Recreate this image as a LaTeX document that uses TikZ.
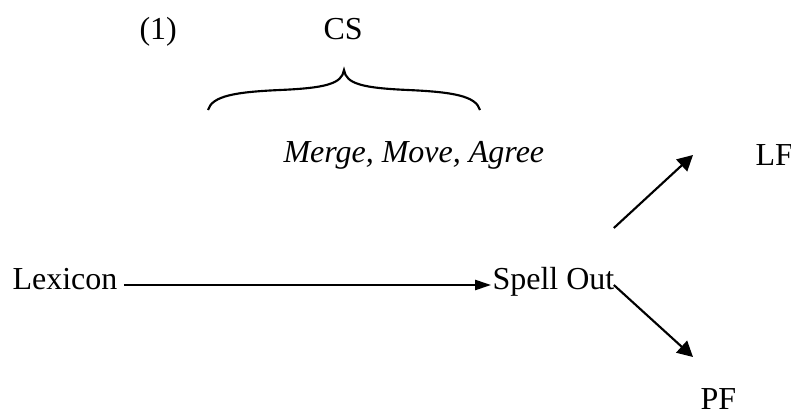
\documentclass[tikz,border=0pt]{standalone}
\usepackage{fontspec}
\setmainfont{Liberation Serif}
\usetikzlibrary{arrows.meta,calc}

\tikzset{
  lbl/.style={inner sep=0pt, anchor=base west, font=\fontsize{12pt}{14pt}\selectfont},
  arr/.style={line width=0.8pt, -{Triangle[length=5.8pt,width=6pt]}},
  flatarr/.style={line width=0.8pt, -{Triangle[length=6pt,width=3.8pt]}},
  bracestroke/.style={line width=0.8pt}
}

\begin{document}
\begin{tikzpicture}[x=0.375pt, y=-0.375pt]
  \useasboundingbox (0,0) rectangle (791,414);

  % labels
  \node[lbl] (num)   at (139,40)  {(1)};
  \node[lbl] (cs)    at (323,40)  {CS};
  \node[lbl] (ops)   at (283,162) {\itshape Merge, Move, Agree};
  \node[lbl] (lex)   at (12,289)  {Lexicon};
  \node[lbl] (spell) at (492,289) {Spell Out};
  \node[lbl] (lf)    at (755,165) {LF};
  \node[lbl] (pf)    at (700,409) {PF};

  % curly brace under CS
  \draw[bracestroke]
    (208,110) .. controls (212,96) and (235,92) .. (280,90)
              .. controls (325,88) and (342,84) .. (344,70)
              .. controls (346,84) and (363,88) .. (408,90)
              .. controls (453,92) and (476,96) .. (480,110);

  % derivation arrows
  \draw[flatarr] ($(lex.base east)+(6,-4)$) -- ($(spell.base west)+(-1,-4)$);
  \draw[arr] ($(spell.base east)+(-1,-61)$) -- ($(lf.base west)+(-62,-10)$);
  \draw[arr] ($(spell.base east)+(-1,-4)$) -- ($(pf.base west)+(-7,-52)$);
\end{tikzpicture}
\end{document}
